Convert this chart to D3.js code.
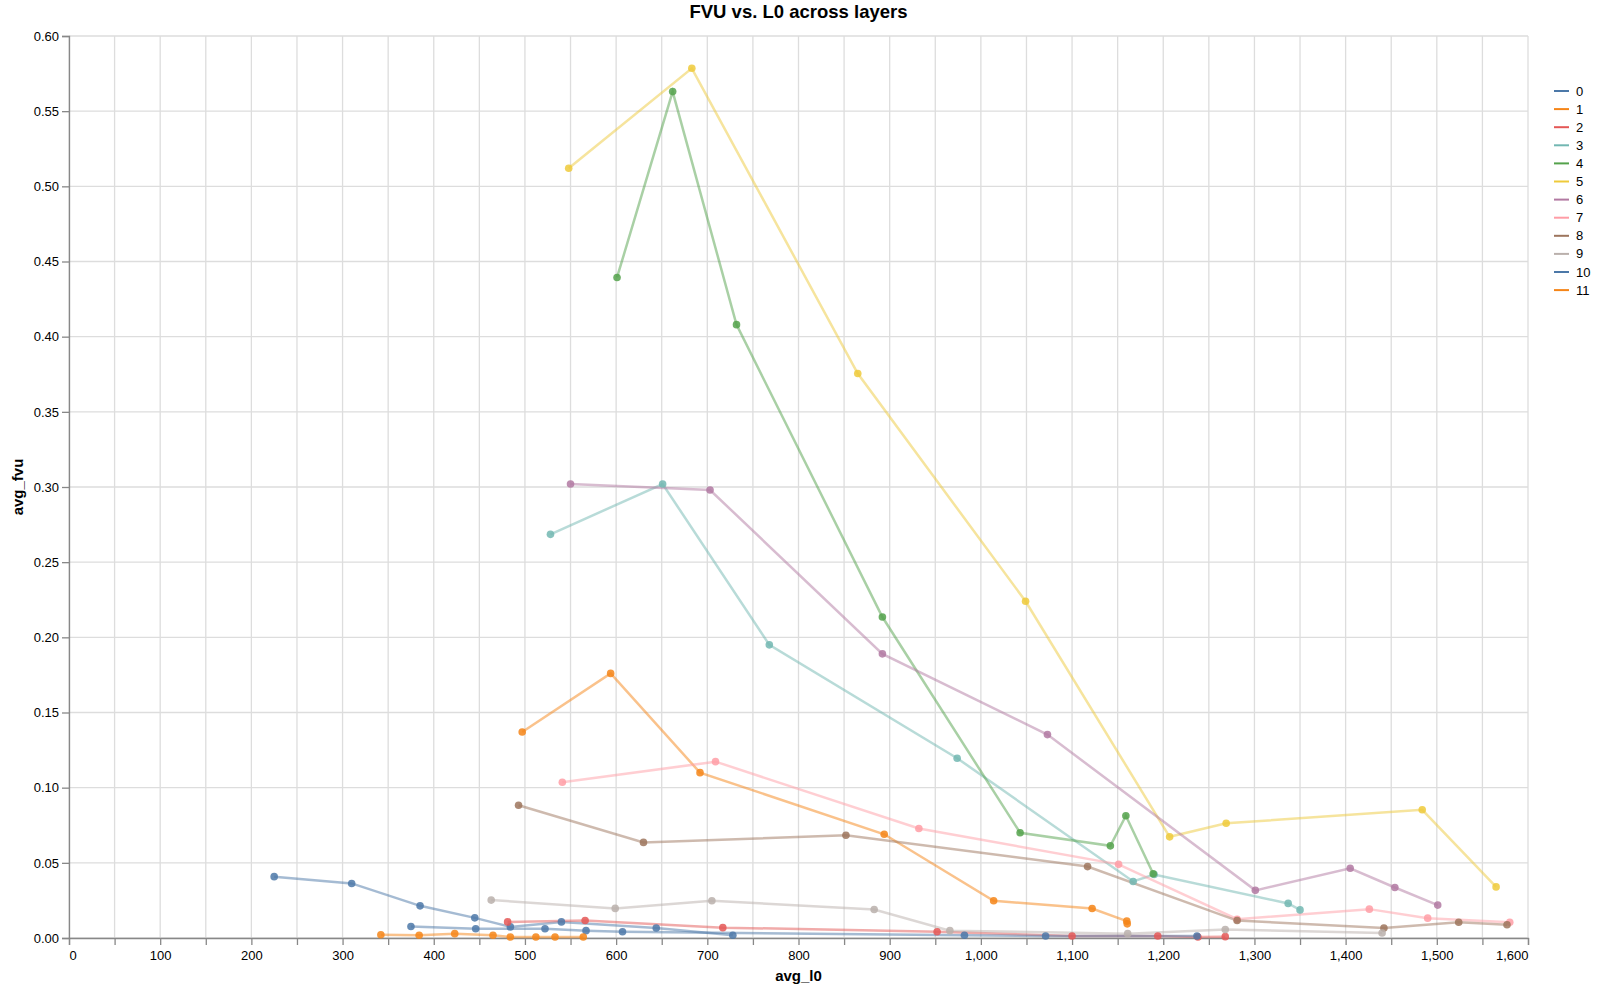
<!DOCTYPE html>
<html>
<head>
<meta charset="utf-8">
<script src="https://cdn.jsdelivr.net/npm/d3@7"></script>
<style>
  body { margin: 0; background: #fff; }
  svg { display: block; font-family: 'Liberation Sans', Arial, sans-serif; }
</style>
</head>
<body>
<svg id="chart" width="1600" height="989"></svg>
<script>
// layer ids, one line per layer
const layers = [0, 1, 2, 3, 4, 5, 6, 7, 8, 9, 10, 11];

// avg_l0 per layer (x)
const avgL0 = [
  [225, 310, 385, 445, 484, 540, 644, 728],
  [497, 594, 692, 894, 1014, 1122, 1160, 1160.5],
  [481, 566, 717, 952, 1100, 1194, 1238, 1268],
  [528, 651, 768, 974, 1167, 1190, 1337, 1350],
  [601, 662, 732, 892, 1043, 1142, 1159, 1189],
  [548, 683, 865, 1049, 1207, 1269, 1484, 1565],
  [550, 703, 892, 1073, 1301, 1405, 1454, 1501],
  [541, 709, 932, 1151, 1281, 1426, 1490, 1580],
  [493, 630, 852, 1117, 1281, 1442, 1524, 1577],
  [463, 599, 705, 883, 966, 1161, 1268, 1440],
  [375, 446, 522, 567, 607, 982, 1071, 1237],
  [342, 384, 423, 465, 484, 512, 533, 564],
];

// avg_fvu per layer (y)
const avgFvu = [
  [0.0408, 0.0363, 0.0214, 0.0134, 0.0074, 0.0107, 0.0067, 0.0018],
  [0.137, 0.176, 0.110, 0.069, 0.0248, 0.0196, 0.0112, 0.0094],
  [0.0107, 0.0116, 0.0069, 0.0042, 0.0013, 0.0013, 0.0007, 0.0009],
  [0.2685, 0.302, 0.195, 0.1196, 0.0376, 0.0422, 0.023, 0.0187],
  [0.4394, 0.563, 0.408, 0.2135, 0.070, 0.0613, 0.0813, 0.0427],
  [0.512, 0.5785, 0.3755, 0.224, 0.0673, 0.0763, 0.0853, 0.034],
  [0.302, 0.298, 0.189, 0.1353, 0.0317, 0.0464, 0.0336, 0.0219],
  [0.1036, 0.1173, 0.0728, 0.049, 0.0125, 0.0192, 0.0132, 0.0105],
  [0.0883, 0.0636, 0.0683, 0.0475, 0.0116, 0.0067, 0.0105, 0.0088],
  [0.0252, 0.0197, 0.0248, 0.019, 0.0049, 0.0029, 0.0056, 0.0033],
  [0.0076, 0.0062, 0.0062, 0.0049, 0.0042, 0.0018, 0.0013, 0.0013],
  [0.0022, 0.0018, 0.0029, 0.0018, 0.0007, 0.0007, 0.0007, 0.0007],
];

const xTicks = d3.range(0, 1601, 50);
const yTicks = d3.range(0, 0.6001, 0.05);
const vegaTableau = ['#4c78a8', '#f58518', '#e45756', '#72b7b2', '#54a24b',
  '#eeca3b', '#b279a2', '#ff9da6', '#9d755d', '#bab0ac'];

const svg = d3.select('#chart');
const margin = { left: 69, top: 36, right: 72, bottom: 51 };
const width = 1600 - margin.left - margin.right,
  height = 989 - margin.top - margin.bottom;

const x = d3.scaleLinear().domain([0, 1600]).range([0, width]);
const y = d3.scaleLinear().domain([0, 0.6]).range([height, 0]);
const colour = d3.scaleOrdinal().domain(layers).range(vegaTableau);

const series = layers.map((layer, i) => ({
  layer,
  points: avgL0[i].map((l0, j) => ({ l0, fvu: avgFvu[i][j] }))
    .sort((a, b) => a.l0 - b.l0),
}));

const g = svg.append('g')
  .attr('transform', `translate(${margin.left},${margin.top})`);

// grid
g.append('g')
  .selectAll('line')
  .data(xTicks)
  .enter().append('line')
  .attr('x1', d => x(d)).attr('x2', d => x(d))
  .attr('y1', 0).attr('y2', height)
  .attr('stroke', '#ddd')
  .attr('stroke-width', 1.3);

g.append('g')
  .selectAll('line')
  .data(yTicks)
  .enter().append('line')
  .attr('x1', 0).attr('x2', width)
  .attr('y1', d => y(d)).attr('y2', d => y(d))
  .attr('stroke', '#ddd')
  .attr('stroke-width', 1.3);

// axes
const xAxis = g.append('g')
  .attr('transform', `translate(0,${height})`)
  .call(d3.axisBottom(x)
    .tickValues(xTicks)
    .tickSize(7)
    .tickPadding(6)
    .tickFormat(d => d % 100 === 0 ? d3.format(',')(d) : ''));

const yAxis = g.append('g')
  .call(d3.axisLeft(y)
    .tickValues(yTicks)
    .tickSize(7)
    .tickPadding(3)
    .tickFormat(d3.format('.2f')));

[xAxis, yAxis].forEach(function(axis) {
  axis.select('.domain').attr('stroke', '#888').attr('stroke-width', 1.3);
  axis.selectAll('.tick line').attr('stroke', '#888').attr('stroke-width', 1.3);
  axis.selectAll('.tick text')
    .attr('fill', '#000')
    .style('font-family', "'Liberation Sans', Arial, sans-serif")
    .style('font-size', '13px');
});

xAxis.selectAll('.tick text')
  .attr('text-anchor', d => d === 0 ? 'start' : d === 1600 ? 'end' : 'middle');

// lines then points (like a layered line + point mark)
const line = d3.line()
  .x(d => x(d.l0))
  .y(d => y(d.fvu));

g.append('g')
  .selectAll('path')
  .data(series)
  .enter().append('path')
  .attr('d', d => line(d.points))
  .attr('fill', 'none')
  .attr('stroke', d => colour(d.layer))
  .attr('stroke-width', 2.5)
  .attr('stroke-opacity', 0.5);

g.append('g')
  .selectAll('g')
  .data(series)
  .enter().append('g')
  .attr('fill', d => colour(d.layer))
  .selectAll('circle')
  .data(d => d.points)
  .enter().append('circle')
  .attr('cx', d => x(d.l0))
  .attr('cy', d => y(d.fvu))
  .attr('r', 3.8)
  .attr('fill-opacity', 0.85);

// titles
svg.append('text')
  .attr('x', margin.left + width / 2)
  .attr('y', 18)
  .attr('text-anchor', 'middle')
  .style('font-size', '18.5px')
  .style('font-weight', 'bold')
  .text('FVU vs. L0 across layers');

svg.append('text')
  .attr('x', margin.left + width / 2)
  .attr('y', 981)
  .attr('text-anchor', 'middle')
  .style('font-size', '15px')
  .style('font-weight', 'bold')
  .text('avg_l0');

svg.append('text')
  .attr('transform', `translate(23,${margin.top + height / 2}) rotate(-90)`)
  .attr('text-anchor', 'middle')
  .style('font-size', '15px')
  .style('font-weight', 'bold')
  .text('avg_fvu');

// legend
const legend = svg.append('g')
  .attr('transform', 'translate(1554,91)')
  .selectAll('g')
  .data(layers)
  .enter().append('g')
  .attr('transform', (d, i) => `translate(0,${i * 18.1})`);

legend.append('line')
  .attr('x1', 0).attr('x2', 15)
  .attr('stroke', d => colour(d))
  .attr('stroke-width', 2);

legend.append('text')
  .attr('x', 22)
  .attr('dy', '0.35em')
  .style('font-size', '13px')
  .text(d => d);
</script>
</body>
</html>
